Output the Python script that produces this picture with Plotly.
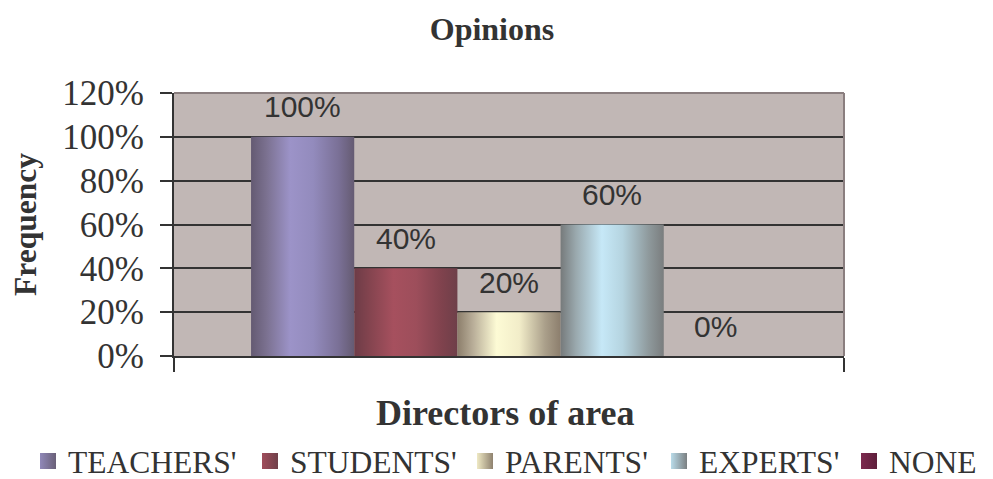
import plotly.graph_objects as go

# ---- data ----
series = ["TEACHERS'", "STUDENTS'", "PARENTS'", "EXPERTS'", "NONE"]
values = [1.00, 0.40, 0.20, 0.60, 0.00]
category = "Directors of area"
y_ticks = [0, 0.2, 0.4, 0.6, 0.8, 1.0, 1.2]

# ---- styles ----
gradients = [
    [[0, '#645a72'], [0.15, '#7b7190'], [0.38, '#9c93c8'], [0.6, '#938bbd'], [0.85, '#7a7096'], [1, '#655b72']],
    [[0, '#6d3c47'], [0.15, '#84444f'], [0.38, '#a6505e'], [0.6, '#9d4e5b'], [0.85, '#7f424d'], [1, '#6e3f49']],
    [[0, '#8c7e6b'], [0.15, '#b8ad98'], [0.38, '#fdfbd5'], [0.6, '#f2edc9'], [0.85, '#aa9f8a'], [1, '#8c7e6d']],
    [[0, '#767a7b'], [0.15, '#9aa9ae'], [0.4, '#c6e8f7'], [0.6, '#b5d4e0'], [0.85, '#8f9a9d'], [1, '#7a7d7e']],
    [[0, '#5e1f3b'], [0.4, '#8a3058'], [1, '#5e1f3b']],
]
legend_colors = ['#9088b8', '#a04d5b', '#efe9c4', '#b9dbe9', '#7c2a4f']
legend_grad = ['#6a6078', '#70404a', '#8f826f', '#7b8082', '#5e1f3b']
legend_square_left_px = [41, 263, 478, 672, 862]   # page pixels of each legend swatch
bargap = 0.23
text_color = '#333333'
serif = 'Liberation Serif, Times New Roman, serif'
sans = 'Liberation Sans, Arial, sans-serif'

# figure geometry (page has an 8px body margin)
W, H = 985, 471
ML, MR, MT, MB = 166, 149, 85, 123
PW, PH = W - ML - MR, H - MT - MB

fig = go.Figure()

n = len(series)
w = (1 - bargap) / n
group_left = -0.5 + bargap / 2
for i, (name, v) in enumerate(zip(series, values)):
    x0 = group_left + i * w
    x1 = x0 + w
    fig.add_trace(go.Scatter(
        x=[x0, x0, x1, x1, x0], y=[0, v, v, 0, 0],
        mode='lines', line=dict(width=0),
        fill='toself',
        fillgradient=dict(type='horizontal', colorscale=gradients[i]),
        name=name, legendgroup=name, showlegend=False, hoverinfo='skip'))
    fig.add_annotation(x=(x0 + x1) / 2, y=v, xref='x', yref='y',
                       text=f"{v:.0%}", showarrow=False, yshift=30,
                       font=dict(family=sans, size=30, color=text_color))

# legend entries (one legend per entry so spacing can match)
legend_layouts = {}
for i, name in enumerate(series):
    lid = 'legend' if i == 0 else f'legend{i + 1}'
    fig.add_trace(go.Scatter(
        x=[None], y=[None], mode='markers', name=name, legendgroup=name,
        legend=lid,
        marker=dict(symbol='square', size=18, color=legend_colors[i],
                    gradient=dict(type='horizontal', color=legend_grad[i]),
                    line=dict(width=0))))
    box_left = legend_square_left_px[i] - 8 - 13
    legend_layouts[lid] = dict(
        orientation='h', yanchor='bottom', y=-(480 - (MT + PH)) / PH,
        xanchor='left', x=(box_left - ML) / PW,
        font=dict(family=serif, size=31.5, color=text_color),
        bgcolor='rgba(0,0,0,0)', borderwidth=0)

fig.add_annotation(text=category, xref='paper', yref='paper', x=0.495, y=-0.217,
                   showarrow=False, yanchor='middle',
                   font=dict(family=serif, size=36, color=text_color, weight='bold'))

fig.add_shape(type='line', xref='paper', yref='paper', x0=0, x1=1, y0=1, y1=1,
              line=dict(color='#8a7e7f', width=2), layer='above')
fig.add_shape(type='line', xref='paper', yref='paper', x0=1, x1=1, y0=0, y1=1,
              line=dict(color='#8a7e7f', width=2), layer='above')

fig.update_layout(
    width=W, height=H,
    margin=dict(l=ML, r=MR, t=MT, b=MB, autoexpand=False),
    paper_bgcolor='white', plot_bgcolor='#c1b7b5',
    title=dict(text='<b>Opinions</b>', x=484 / W, xanchor='center', y=1 - 21 / H,
               yanchor='middle', font=dict(family=serif, size=32, color=text_color)),
    showlegend=True,
    xaxis=dict(range=[-0.5, 0.5], tickvals=[-0.5, 0.5], ticktext=['', ''],
               ticks='outside', ticklen=14, tickwidth=2, tickcolor='#333333',
               showgrid=False, zeroline=False, showline=True, linecolor='#333333',
               linewidth=2, fixedrange=True, automargin=False),
    yaxis=dict(range=[0, 1.2], tickvals=y_ticks, tickformat='.0%',
               ticks='outside', ticklen=12, tickwidth=2, tickcolor='#333333',
               showgrid=True, gridcolor='#333333', gridwidth=2, zeroline=False,
               showline=True, linecolor='#333333', linewidth=2, automargin=False,
               ticklabelstandoff=9,
               tickfont=dict(family=serif, size=35, color=text_color),
               title=dict(text='<b>Frequency</b>', standoff=18,
                          font=dict(family=serif, size=31.5, color=text_color))),
    **legend_layouts,
)

fig.write_html("out.html")
